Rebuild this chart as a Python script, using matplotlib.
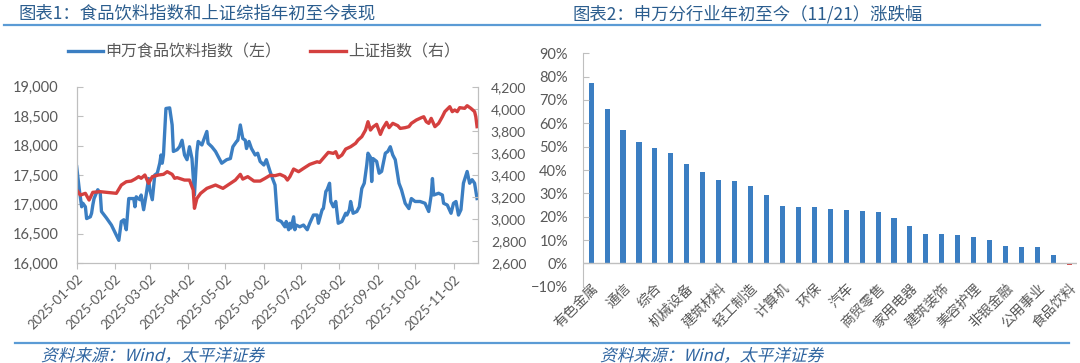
import matplotlib

matplotlib.use("Agg")
import matplotlib.pyplot as plt
import matplotlib.dates as mdates
import matplotlib.transforms as mtransforms
import numpy as np
import pandas as pd
from matplotlib.font_manager import FontProperties
from matplotlib.lines import Line2D
from matplotlib.patches import PathPatch
from matplotlib.textpath import TextPath
from matplotlib.ticker import FuncFormatter, MultipleLocator, PercentFormatter

plt.rcParams["font.family"] = ["Lato", "Noto Sans CJK SC", "DejaVu Sans"]

W, H = 1080, 363
START = pd.Timestamp("2025-01-02")
END = pd.Timestamp("2025-11-22")

# --- chart 1: SW food & beverage index (left axis), days since 2025-01-02
food_days = [0, 2, 4, 5, 7, 8, 11, 12, 13, 14, 17, 19, 20, 24, 28, 34, 36, 38, 40, 42,
             46, 47, 48, 51, 52, 54, 56, 58, 59, 61, 63, 65, 67, 68, 69, 70, 72, 75, 77, 78,
             81, 83, 85, 87, 89, 91, 93, 95, 97, 98, 101, 102, 105, 106, 109, 112, 117, 121,
             124, 126, 129, 130, 132, 134, 136, 137, 139, 141, 144, 146, 148, 151, 153, 156,
             158, 160, 162, 165, 168, 169, 171, 172, 173, 175, 176, 177, 180, 183, 186, 188,
             191, 194, 195, 198, 199, 201, 202, 204, 205, 207, 209, 211, 214, 217, 218, 220,
             221, 223, 226, 228, 230, 232, 234, 235, 237, 238, 239, 242, 244, 246, 249, 251,
             253, 255, 257, 260, 262, 265, 268, 270, 273, 277, 281, 284, 286, 287, 288, 292,
             295, 296, 299, 302, 304, 306, 308, 310, 312, 315, 317, 319, 321, 323]
food_vals = [17640, 17270, 16960, 17020, 16960, 16760, 16790, 16850, 16990, 17100, 17250,
             17190, 16880, 16770, 16650, 16390, 16710, 16740, 16570, 17100, 17100, 16960,
             17130, 17080, 17160, 16910, 17160, 17440, 17250, 17080, 17500, 17530, 17700,
             17840, 17700, 17840, 18630, 18640, 18350, 17900, 17930, 17980, 18090, 17840,
             17760, 17980, 17780, 17160, 17900, 18070, 18010, 18070, 18240, 18040, 17980,
             17900, 17700, 17760, 17780, 17980, 18070, 18090, 18350, 18120, 18090, 17950,
             18070, 17950, 17840, 17870, 17730, 17670, 17760, 17560, 17440, 17330, 16740,
             16710, 16620, 16710, 16570, 16680, 16600, 16790, 16570, 16650, 16620, 16650,
             16570, 16680, 16820, 16820, 16680, 16910, 16930, 17220, 17250, 17360, 17050,
             16960, 17050, 16680, 16710, 16850, 16820, 16910, 17050, 16850, 16880, 16960,
             17270, 17360, 17670, 17870, 17800, 17390, 17780, 17730, 17530, 17560, 17870,
             17900, 17980, 17840, 17760, 17360, 17250, 17020, 16930, 17100, 17050, 17050,
             17020, 16880, 17160, 17440, 17160, 17190, 17160, 17020, 16990, 16850, 17020,
             17050, 16820, 16910, 17360, 17560, 17360, 17420, 17360, 17100]

# --- chart 1: Shanghai composite (right axis)
sh_days = [0, 3, 7, 10, 13, 19, 24, 32, 36, 40, 44, 47, 50, 52, 55, 58, 61, 66, 70, 73,
           77, 79, 81, 87, 91, 94, 95, 97, 100, 105, 112, 118, 124, 128, 132, 134, 138,
           143, 148, 152, 156, 160, 164, 168, 170, 172, 175, 179, 183, 188, 194, 196, 200,
           203, 207, 209, 211, 214, 217, 221, 225, 227, 230, 233, 235, 237, 239, 242, 245,
           247, 250, 252, 255, 259, 261, 265, 268, 270, 274, 278, 280, 282, 284, 286, 289,
           292, 295, 297, 301, 303, 305, 307, 309, 313, 315, 318, 321, 322, 323]
sh_vals = [3264, 3218, 3234, 3173, 3243, 3249, 3243, 3234, 3309, 3339, 3345, 3363, 3385,
           3370, 3400, 3324, 3385, 3400, 3406, 3430, 3406, 3370, 3376, 3354, 3354, 3264,
           3098, 3188, 3234, 3279, 3309, 3279, 3324, 3354, 3406, 3363, 3385, 3345, 3345,
           3370, 3397, 3394, 3406, 3385, 3354, 3385, 3454, 3430, 3460, 3496, 3520, 3514,
           3566, 3605, 3596, 3611, 3557, 3581, 3635, 3656, 3687, 3717, 3747, 3807, 3883,
           3807, 3835, 3859, 3768, 3822, 3877, 3829, 3868, 3847, 3822, 3829, 3838, 3868,
           3898, 3919, 3928, 3883, 3868, 3913, 3838, 3868, 3928, 3974, 4019, 3974, 3989,
           3974, 4010, 4004, 4028, 4004, 3974, 3928, 3838]

# --- chart 2: SW level-1 industries, YTD change (%)
industries = ["有色金属", "电子", "通信", "钢铁", "综合", "国防军工", "机械设备", "电力设备",
              "建筑材料", "传媒", "轻工制造", "基础化工", "计算机", "医药生物", "环保",
              "社会服务", "汽车", "纺织服饰", "商贸零售", "农林牧渔", "家用电器", "银行",
              "建筑装饰", "交通运输", "美容护理", "房地产", "非银金融", "石油石化",
              "公用事业", "煤炭", "食品饮料"]
ytd_pct = [77.1, 66.1, 57.1, 51.9, 49.3, 47.1, 42.7, 39.3, 35.7, 35.3, 33.0, 29.3, 24.7,
           24.1, 24.1, 23.3, 22.7, 22.3, 22.1, 19.6, 16.1, 12.6, 12.6, 12.3, 11.4, 10.0,
           7.6, 7.1, 6.9, 3.4, -0.6]

BLUE = "#3b7ec2"
RED = "#d4403f"
TITLE_C = "#2b5d8e"
RULE_C = "#5b9bd5"
TICK_C = "#595959"
SPINE_C = "#bfbfbf"
CJK = ["Noto Sans CJK SC", "DejaVu Sans"]


def fx(px):
    return px / W


def fy(py):
    return 1 - py / H


def hrule(fig, x0, x1, y):
    fig.add_artist(Line2D([fx(x0), fx(x1)], [fy(y), fy(y)], transform=fig.transFigure,
                          color=RULE_C, lw=1.6))


def slanted_text(fig, x_px, y_px, s, size, color):
    # fake italic: CJK font has no oblique face, so shear the glyph outlines
    tp = TextPath((0, 0), s, prop=FontProperties(family="Noto Sans CJK SC", size=size))
    scale = fig.dpi / 72.0
    tr = (mtransforms.Affine2D().skew_deg(14, 0).scale(scale)
          .translate(x_px, H - y_px))
    fig.add_artist(PathPatch(tr.transform_path(tp), color=color, lw=0,
                             transform=mtransforms.IdentityTransform()))


fig = plt.figure(figsize=(W / 100, H / 100), dpi=100)

fig.text(fx(18), fy(14), "图表1：食品饮料指数和上证综指年初至今表现", family=CJK,
         fontsize=12.5, color=TITLE_C, va="center", ha="left")
fig.text(fx(572), fy(14), "图表2：申万分行业年初至今（11/21）涨跌幅", family=CJK,
         fontsize=12.5, color=TITLE_C, va="center", ha="left")
hrule(fig, 4, 1040, 25)
hrule(fig, 15, 1069, 343)
slanted_text(fig, 41, 361, "资料来源：Wind，太平洋证券", 12, "#2e64a0")
slanted_text(fig, 600, 361, "资料来源：Wind，太平洋证券", 12, "#2e64a0")

# ---------------- left: line chart with twin axes
ax = fig.add_axes([fx(76.7), fy(263.3), fx(478.3) - fx(76.7), fy(86.7) - fy(263.3)])
food_dates = START + pd.to_timedelta(food_days, unit="D")
sh_dates = START + pd.to_timedelta(sh_days, unit="D")
l1, = ax.plot(food_dates, food_vals, color=BLUE, lw=2.4, solid_joinstyle="round")
ax2 = ax.twinx()
l2, = ax2.plot(sh_dates, sh_vals, color=RED, lw=2.4, solid_joinstyle="round")

ax.set_xlim(START, END)
ax.set_ylim(16000, 19000)
ax2.set_ylim(2600, 4200)
ax.yaxis.set_major_locator(MultipleLocator(500))
ax2.yaxis.set_major_locator(MultipleLocator(200))
thousands = FuncFormatter(lambda v, _: f"{v:,.0f}")
ax.yaxis.set_major_formatter(thousands)
ax2.yaxis.set_major_formatter(thousands)
ax.set_xticks(pd.date_range("2025-01-02", periods=11, freq=pd.DateOffset(months=1)))
ax.xaxis.set_major_formatter(mdates.DateFormatter("%Y-%m-%d"))
plt.setp(ax.get_xticklabels(), rotation=45, ha="right", rotation_mode="anchor")

for a in (ax, ax2):
    a.spines["top"].set_visible(False)
    for sp in ("left", "right", "bottom"):
        a.spines[sp].set_color(SPINE_C)
ax.tick_params(axis="y", direction="in", length=4, color=SPINE_C, labelcolor=TICK_C,
               labelsize=10.5, pad=13)
ax.tick_params(axis="x", direction="out", length=4, color=SPINE_C, labelcolor=TICK_C,
               labelsize=9.5, pad=3)
ax2.tick_params(axis="y", direction="in", length=4, color=SPINE_C, labelcolor=TICK_C,
                labelsize=10, pad=9)

fig.legend([l1, l2], ["申万食品饮料指数（左）", "上证指数（右）"], loc="center",
           bbox_to_anchor=(fx(264), fy(52)), ncol=2, frameon=False, handlelength=2.2,
           columnspacing=1.8, handletextpad=0.15, prop={"family": CJK, "size": 11.5},
           labelcolor=TICK_C)

# ---------------- right: bar chart
bx = fig.add_axes([fx(583.2), fy(286.7), fx(1077.3) - fx(583.2), fy(53.3) - fy(286.7)])
x = np.arange(len(industries))
colors = [BLUE if v >= 0 else RED for v in ytd_pct]
bx.bar(x, ytd_pct, width=0.32, color=colors)
bx.set_xlim(-0.5, len(industries) - 0.5)
bx.set_ylim(-10, 90)
bx.yaxis.set_major_locator(MultipleLocator(10))
bx.yaxis.set_major_formatter(PercentFormatter(decimals=0))
bx.axhline(0, color=SPINE_C, lw=1)
for sp in ("top", "right", "bottom"):
    bx.spines[sp].set_visible(False)
bx.spines["left"].set_color(SPINE_C)
bx.tick_params(axis="y", direction="in", length=4, color=SPINE_C, labelcolor=TICK_C,
               labelsize=10.5, pad=11)
bx.set_xticks(x[::2])
bx.set_xticklabels(industries[::2], family=CJK, fontsize=10, color=TICK_C, rotation=45,
                   ha="right", rotation_mode="anchor")
bx.tick_params(axis="x", length=0, pad=-4)

fig.savefig("out.png", dpi=100)
